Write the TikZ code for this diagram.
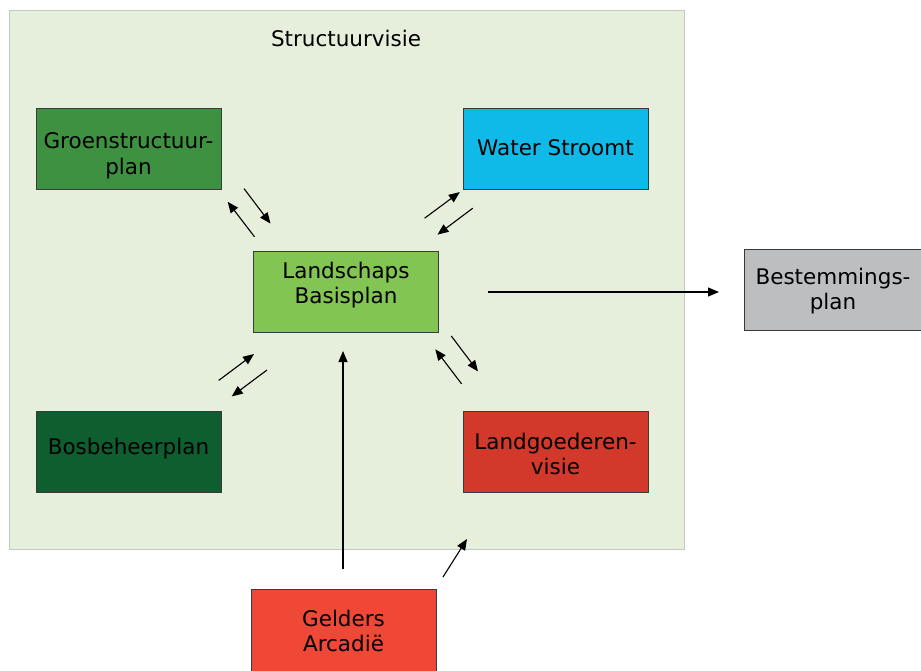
\documentclass[tikz,border=0pt]{standalone}
\usepackage{fontspec}
\setmainfont{DejaVu Sans}
\usetikzlibrary{arrows.meta}
\definecolor{bgc}{HTML}{E5EFDC}
\definecolor{bgline}{HTML}{C4C8C0}
\definecolor{cgroen}{HTML}{3F9142}
\definecolor{cwater}{HTML}{10BAE8}
\definecolor{cland}{HTML}{82C552}
\definecolor{cbos}{HTML}{0E5E30}
\definecolor{cgoed}{HTML}{D3392A}
\definecolor{cbest}{HTML}{BCBEC0}
\definecolor{cgeld}{HTML}{EF4836}
\definecolor{edge}{HTML}{3A3A3A}
\tikzset{
  boxnode/.style={draw=edge, line width=1pt, rectangle, minimum width=185pt, minimum height=81pt, inner sep=0pt},
  txt/.style={align=center, font=\fontsize{21.5}{25.5}\selectfont, inner sep=0pt},
  arr/.style={-{Triangle[length=11pt,width=9pt]}, line width=1.1pt, black},
}
\begin{document}
\begin{tikzpicture}[x=1pt,y=-1pt]
\useasboundingbox (0,0) rectangle (921,670);
\node[draw=bgline, fill=bgc, line width=1pt, minimum width=675pt, minimum height=539pt, inner sep=0pt] (frame) at (346.5,279.5) {};
\node[txt] (title) at (346,38) {Structuurvisie};
\node[boxnode, fill=cgroen] (groen) at (128.5,148.5) {};
\node[txt] (groent) at (128.5,156) {Groenstructuur-\\plan};
\node[boxnode, fill=cwater] (water) at (555.5,148.5) {};
\node[txt] (watert) at (555.5,148) {Water Stroomt};
\node[boxnode, fill=cland] (land) at (346,292) {};
\node[txt] (landt) at (346,285) {Landschaps\\Basisplan};
\node[boxnode, fill=cbos] (bos) at (128.5,452) {};
\node[txt] (bost) at (128.5,449) {Bosbeheerplan};
\node[boxnode, fill=cgoed] (goed) at (555.5,452) {};
\node[txt] (goedt) at (555.5,454) {Landgoederen-\\visie};
\node[boxnode, fill=cbest, minimum width=178pt] (best) at (833,290) {};
\node[txt] (bestt) at (833,291) {Bestemmings-\\plan};
\node[boxnode, fill=cgeld, minimum height=84pt] (geld) at (343.5,631) {};
\node[txt] (geldt) at (343.5,631) {Gelders\\Arcadië};
% free connector ends
\coordinate (g1a) at (254.5,236.8); \coordinate (g1b) at (227.7,201.8);
\coordinate (g2a) at (244,188.6);   \coordinate (g2b) at (270.5,223.6);
\coordinate (w1a) at (424.6,218.2); \coordinate (w1b) at (459.8,192.1);
\coordinate (w2a) at (472.8,208.2); \coordinate (w2b) at (437.5,234.6);
\coordinate (b1a) at (218.7,380.4); \coordinate (b1b) at (254,354);
\coordinate (b2a) at (267,370);     \coordinate (b2b) at (231.7,396.4);
\coordinate (l1a) at (461.6,383.9); \coordinate (l1b) at (435.3,349.3);
\coordinate (l2a) at (451.3,336);   \coordinate (l2b) at (478,371.4);
\coordinate (ha) at (488,292);      \coordinate (hb) at (719,292);
\coordinate (va) at (343,569);      \coordinate (vb) at (343,351);
\coordinate (da) at (443,577);      \coordinate (db) at (467,539);
\draw[arr] (g1a) -- (g1b);
\draw[arr] (g2a) -- (g2b);
\draw[arr] (w1a) -- (w1b);
\draw[arr] (w2a) -- (w2b);
\draw[arr] (b1a) -- (b1b);
\draw[arr] (b2a) -- (b2b);
\draw[arr] (l1a) -- (l1b);
\draw[arr] (l2a) -- (l2b);
\draw[arr] (ha) -- (hb);
\draw[arr] (va) -- (vb);
\draw[arr] (da) -- (db);
\end{tikzpicture}
\end{document}
